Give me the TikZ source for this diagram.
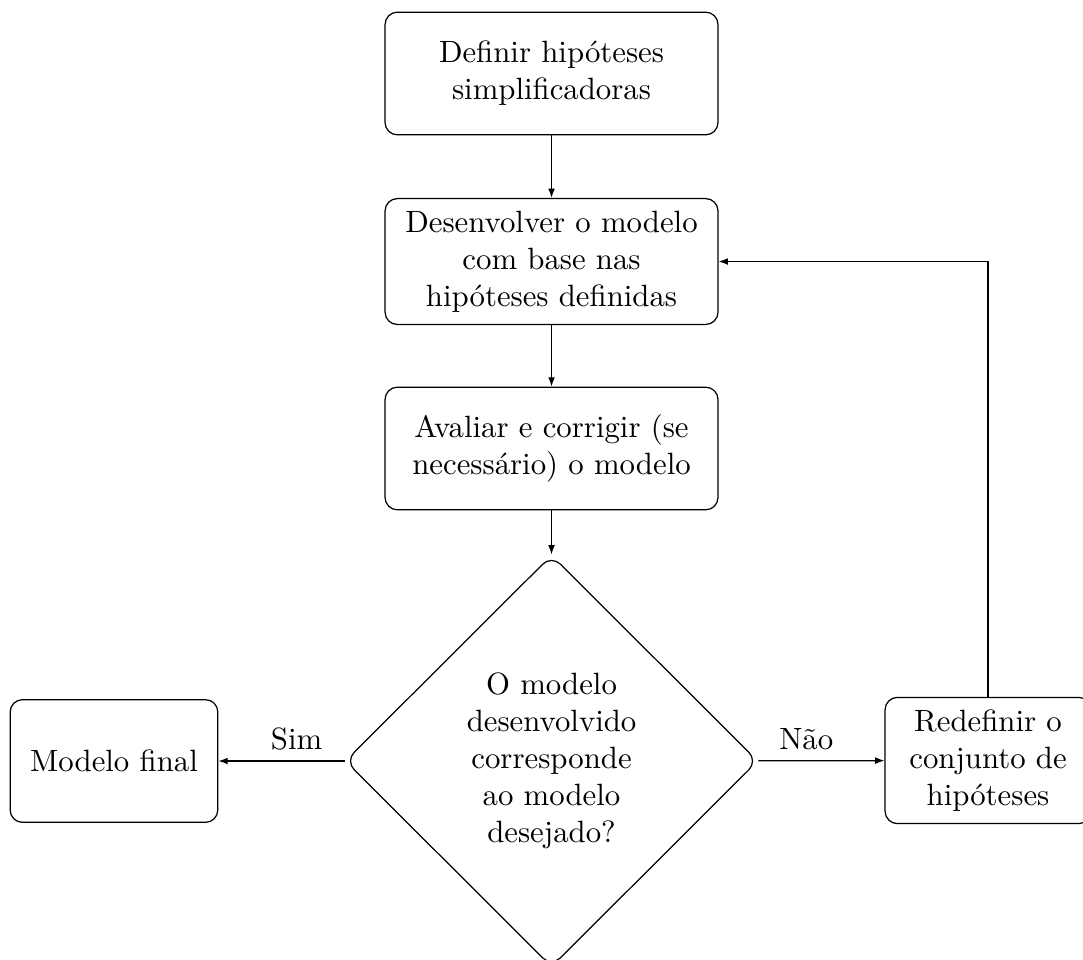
\documentclass[tikz,border=0pt]{standalone}
\usepackage{amsmath}
\usepackage{tikz}
\usetikzlibrary{shapes.geometric}
\usetikzlibrary{arrows.meta}

\begin{document}
\begin{tikzpicture}[
        etapa/.style={draw,rounded corners,align=center,inner xsep=2pt,inner ysep=4pt,minimum height=1.4cm},
        decisao/.style={draw,diamond,rounded corners,align=center,minimum width=4.71cm,minimum height=4.70cm},
        seta/.style={-{Latex[length=3pt,width=2.2pt]}}
    ]
                \clip (0,0) rectangle (12.361,-10.946);

                \node[etapa,minimum width=3.8cm] (definir) at (6.295,-0.839) {Definir hipóteses\\simplificadoras};
                \node[etapa,minimum width=3.8cm] (desenvolver) at (6.295,-2.985) {Desenvolver o modelo\\com base nas\\hipóteses definidas};
                \node[etapa,minimum width=3.8cm] (avaliar) at (6.295,-5.119) {Avaliar e corrigir (se\\necessário) o modelo};
                \node[decisao] (corresponde) at (6.295,-8.686) {O modelo\\desenvolvido\\corresponde\\ao modelo\\desejado?};
                \node[etapa,minimum width=2.37cm] (final) at (1.301,-8.686) {Modelo final};
                \node[etapa,minimum width=2.35cm] (redefinir) at (11.277,-8.680) {Redefinir o\\conjunto de\\hipóteses};

                \draw[seta] (definir) -- (desenvolver);
                \draw[seta] (desenvolver) -- (avaliar);
                \draw[seta] (avaliar) -- (corresponde);
                \draw[seta] (corresponde) -- node[above,pos=0.38]{Sim} (final);
                \draw[seta] (corresponde) -- node[above,pos=0.38]{Não} (redefinir);
                \draw[seta] (redefinir) |- (desenvolver);
            \end{tikzpicture}
\end{document}
